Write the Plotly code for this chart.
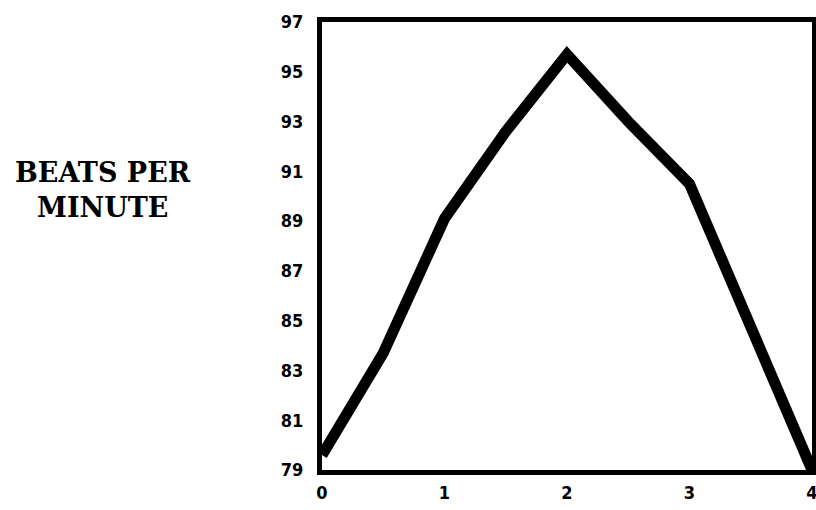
import plotly.graph_objects as go

# Data
time_points = [0, 0.5, 1, 1.5, 2, 2.5, 3, 3.5, 4]
beats_per_minute = [79.6, 83.7, 89.1, 92.6, 95.7, 93.0, 90.5, 84.8, 79.0]
y_ticks = [79, 81, 83, 85, 87, 89, 91, 93, 95, 97]
x_ticks = [0, 1, 2, 3, 4]
y_label_lines = ["BEATS PER", "MINUTE"]

fig = go.Figure()
fig.add_trace(go.Scatter(
    x=time_points, y=beats_per_minute, mode="lines",
    line=dict(color="black", width=11),
    showlegend=False, hoverinfo="skip",
))

tick_font = dict(family="DejaVu Sans Condensed", size=18, color="black", weight="bold")

fig.update_xaxes(
    range=[0, 4], tickvals=x_ticks, ticktext=[str(v) for v in x_ticks],
    showline=True, linecolor="black", linewidth=5, mirror=True,
    showgrid=False, zeroline=False, ticks="outside", ticklen=2, tickcolor="white",
    tickfont=tick_font, automargin=False, ticklabeloverflow="allow",
)
fig.update_yaxes(
    range=[79, 97], tickvals=y_ticks, ticktext=[str(v) for v in y_ticks],
    showline=True, linecolor="black", linewidth=5, mirror=True,
    showgrid=False, zeroline=False, ticks="outside", ticklen=10, tickcolor="white",
    tickfont=tick_font, automargin=False, ticklabeloverflow="allow",
)

label_font = dict(family="DejaVu Serif", size=27, color="black", weight="bold")
fig.add_annotation(text=y_label_lines[0], xref="paper", yref="paper",
                   x=-0.447, y=0.663, xanchor="center", yanchor="middle",
                   showarrow=False, font=label_font)
fig.add_annotation(text=y_label_lines[1], xref="paper", yref="paper",
                   x=-0.447, y=0.585, xanchor="center", yanchor="middle",
                   showarrow=False, font=label_font)

fig.update_layout(
    width=816, height=510,
    margin=dict(l=322, r=4, t=22, b=40),
    paper_bgcolor="white", plot_bgcolor="white",
)

# Remove the default page margin so the figure fills the window exactly
fig.write_html("out.html", config={"displayModeBar": False},
               post_script="document.body.style.margin='0px';")
